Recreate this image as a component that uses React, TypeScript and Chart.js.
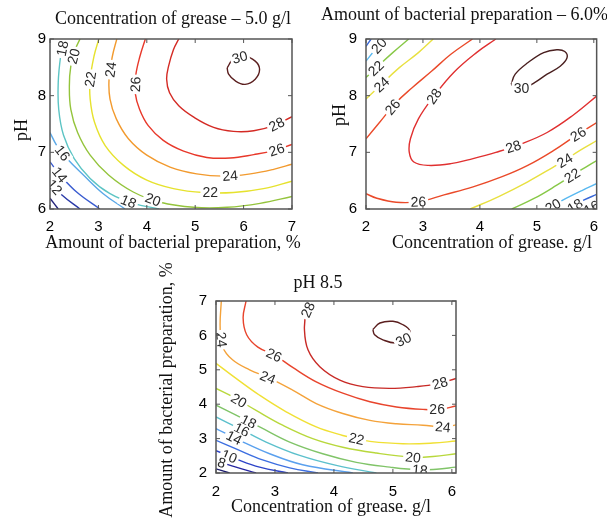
import React, { useEffect, useRef } from 'react';
import { Chart, registerables } from 'chart.js';
Chart.register(...registerables);

type P = [number, number];
type Lbl = [string, number, number];

// ---------- Panel A: grease 5.0 g/l (x: bacterial prep %, y: pH) ----------
const A_X_TICKS = [2, 3, 4, 5, 6, 7];
const A_Y_TICKS = [6, 7, 8, 9];
const A_10: P[] = [[2, 6.19], [2.17, 6.0]];
const A_12: P[] = [[2, 6.48], [2.24, 6.25], [2.62, 6.0]];
const A_14: P[] = [[2, 6.83], [2.21, 6.6], [2.55, 6.3], [3.03, 6.0]];
const A_16: P[] = [[2, 7.35], [2.14, 7.12], [2.35, 6.89], [2.69, 6.6], [3.1, 6.27], [3.55, 6.0]];
const A_18: P[] = [[2.29, 9], [2.22, 8.7], [2.17, 8.23], [2.18, 7.76], [2.28, 7.3], [2.5, 6.89], [2.83, 6.54], [3.24, 6.27], [3.72, 6.1], [4.26, 6.0]];
const A_20: P[] = [[2.62, 9], [2.52, 8.81], [2.43, 8.52], [2.4, 8.17], [2.43, 7.76], [2.57, 7.35], [2.83, 6.95], [3.21, 6.6], [3.72, 6.3], [4.28, 6.12], [4.97, 6.03], [5.66, 6.03], [6.34, 6.1], [7, 6.22]];
const A_22: P[] = [[3.01, 9], [2.91, 8.7], [2.83, 8.29], [2.83, 7.94], [2.92, 7.53], [3.14, 7.12], [3.52, 6.77], [4.0, 6.51], [4.55, 6.36], [5.17, 6.29], [5.79, 6.29], [6.41, 6.36], [7, 6.49]];
const A_24: P[] = [[3.38, 9], [3.29, 8.7], [3.22, 8.29], [3.24, 7.94], [3.37, 7.59], [3.62, 7.24], [4.0, 6.95], [4.48, 6.74], [5.03, 6.62], [5.59, 6.58], [6.14, 6.62], [6.62, 6.7], [7, 6.79]];
const A_26: P[] = [[3.97, 9], [3.86, 8.7], [3.77, 8.35], [3.76, 8.05], [3.85, 7.76], [4.03, 7.47], [4.34, 7.21], [4.76, 7.02], [5.24, 6.91], [5.72, 6.9], [6.21, 6.96], [6.62, 7.03], [7, 7.14]];
const A_28: P[] = [[4.66, 9], [4.55, 8.81], [4.45, 8.52], [4.41, 8.29], [4.47, 8.05], [4.66, 7.82], [4.97, 7.62], [5.38, 7.44], [5.79, 7.37], [6.21, 7.38], [6.62, 7.47], [7, 7.63]];
const A_30: P[] = [[5.66, 8.49], [5.79, 8.65], [6.0, 8.7], [6.24, 8.61], [6.33, 8.46], [6.24, 8.29], [6.03, 8.2], [5.83, 8.26], [5.69, 8.38], [5.66, 8.49]];
const A_LABELS: Lbl[] = [
  ['30', 5.93, 8.64], ['28', 6.69, 7.48], ['26', 3.76, 8.2], ['26', 6.69, 7.03],
  ['24', 3.24, 8.46], ['24', 5.72, 6.58], ['22', 2.84, 8.29], ['22', 5.31, 6.3],
  ['20', 2.47, 8.7], ['20', 4.14, 6.2], ['18', 2.22, 8.84], ['18', 3.62, 6.13],
  ['16', 2.2, 6.95], ['14', 2.12, 6.55], ['12', 2.05, 6.35],
];

// ---------- Panel B: bacterial prep 6.0 % (x: grease g/l, y: pH) ----------
const B_X_TICKS = [2, 3, 4, 5, 6];
const B_Y_TICKS = [6, 7, 8, 9];
const B_16: P[] = [[5.92, 6.0], [6.06, 6.08]];
const B_18a: P[] = [[2, 8.87], [2.09, 9]];
const B_18b: P[] = [[5.58, 6.0], [5.83, 6.16], [6.06, 6.26]];
const B_20a: P[] = [[2, 8.61], [2.16, 8.81], [2.33, 9]];
const B_20b: P[] = [[5.18, 6.0], [5.52, 6.19], [5.8, 6.33], [6.06, 6.45]];
const B_22a: P[] = [[2, 8.32], [2.24, 8.55], [2.47, 8.76], [2.75, 9]];
const B_22b: P[] = [[4.56, 6.0], [4.96, 6.19], [5.35, 6.42], [5.63, 6.6], [5.86, 6.74], [6.06, 6.86]];
const B_24a: P[] = [[2, 7.94], [2.24, 8.17], [2.58, 8.49], [2.92, 8.76], [3.18, 9]];
const B_24b: P[] = [[3.83, 6.0], [4.33, 6.22], [4.84, 6.48], [5.29, 6.74], [5.49, 6.86], [5.75, 7.03], [6.06, 7.21]];
const B_26a: P[] = [[2, 7.24], [2.24, 7.53], [2.53, 7.88], [2.81, 8.14], [3.15, 8.43], [3.49, 8.73], [3.87, 9]];
const B_26b: P[] = [[2, 6.27], [2.19, 6.19], [2.53, 6.12], [2.92, 6.13], [3.37, 6.25], [3.88, 6.39], [4.39, 6.57], [4.84, 6.77], [5.29, 7.03], [5.69, 7.3], [6.06, 7.53]];
const B_28: P[] = [[4.28, 9], [3.94, 8.76], [3.54, 8.41], [3.2, 8.0], [2.92, 7.59], [2.78, 7.24], [2.76, 7.0], [2.84, 6.83], [3.09, 6.77], [3.49, 6.8], [3.88, 6.89], [4.28, 7.0], [4.73, 7.15], [5.18, 7.35], [5.63, 7.65], [6.06, 8.0]];
const B_30: P[] = [[4.55, 8.2], [4.62, 8.38], [4.84, 8.58], [5.12, 8.76], [5.35, 8.81], [5.49, 8.78], [5.53, 8.67], [5.41, 8.52], [5.18, 8.38], [4.96, 8.23], [4.79, 8.14], [4.62, 8.14], [4.55, 8.2]];
const B_LABELS: Lbl[] = [
  ['20', 2.24, 8.87], ['22', 2.16, 8.5], ['24', 2.3, 8.17], ['26', 2.44, 7.82],
  ['28', 3.18, 8.0], ['30', 4.73, 8.1], ['28', 4.59, 7.09], ['26', 2.92, 6.12],
  ['26', 5.72, 7.33], ['24', 5.49, 6.86], ['22', 5.6, 6.62], ['20', 5.28, 6.06],
  ['18', 5.66, 6.07], ['16', 5.96, 6.03],
];

// ---------- Panel C: pH 8.5 (x: grease g/l, y: bacterial prep %) ----------
const C_X_TICKS = [2, 3, 4, 5, 6];
const C_Y_TICKS = [2, 3, 4, 5, 6, 7];
const C_6: P[] = [[2, 2.12], [2.23, 2.0]];
const C_8: P[] = [[2, 2.36], [2.34, 2.17], [2.68, 2.0]];
const C_10: P[] = [[2, 2.65], [2.34, 2.41], [2.74, 2.17], [3.22, 2.0]];
const C_12: P[] = [[2, 2.95], [2.34, 2.7], [2.79, 2.38], [3.25, 2.15], [3.73, 2.0]];
const C_14: P[] = [[2, 3.29], [2.4, 2.95], [2.91, 2.56], [3.47, 2.24], [4.32, 2.0]];
const C_16: P[] = [[2, 3.63], [2.4, 3.29], [2.85, 2.9], [3.42, 2.51], [4.04, 2.22], [4.72, 2.0]];
const C_18: P[] = [[2, 3.97], [2.34, 3.68], [2.74, 3.34], [3.25, 2.9], [3.81, 2.56], [4.38, 2.31], [4.95, 2.17], [5.46, 2.09], [5.74, 2.11], [6.07, 2.17]];
const C_20: P[] = [[2, 4.46], [2.28, 4.22], [2.68, 3.82], [3.13, 3.39], [3.64, 3.0], [4.15, 2.75], [4.72, 2.58], [5.34, 2.46], [5.68, 2.48], [6.07, 2.56]];
const C_22: P[] = [[2, 5.19], [2.34, 4.75], [2.74, 4.26], [3.19, 3.78], [3.7, 3.34], [4.15, 3.09], [4.38, 3.0], [4.61, 2.92], [5.17, 2.85], [5.68, 2.87], [6.07, 2.93]];
const C_24: P[] = [[2.09, 7], [2.07, 6.26], [2.11, 5.68], [2.28, 5.29], [2.57, 5.0], [2.88, 4.78], [3.3, 4.41], [3.7, 4.02], [4.15, 3.73], [4.61, 3.53], [5.06, 3.43], [5.51, 3.39], [5.85, 3.34], [6.07, 3.4]];
const C_26: P[] = [[2.51, 7], [2.46, 6.51], [2.52, 6.02], [2.71, 5.66], [2.99, 5.43], [3.3, 5.07], [3.7, 4.65], [4.15, 4.32], [4.61, 4.07], [5.06, 3.92], [5.51, 3.85], [5.8, 3.85], [6.07, 3.95]];
const C_28: P[] = [[3.62, 7], [3.53, 6.65], [3.5, 6.17], [3.56, 5.58], [3.76, 5.09], [4.1, 4.7], [4.49, 4.51], [4.95, 4.46], [5.4, 4.51], [5.74, 4.59], [6.07, 4.75]];
const C_30: P[] = [[4.66, 6.17], [4.78, 6.36], [5.0, 6.41], [5.17, 6.31], [5.29, 6.12], [5.23, 5.92], [5.06, 5.78], [4.83, 5.87], [4.69, 6.02], [4.66, 6.17]];
const C_LABELS: Lbl[] = [
  ['30', 5.2, 5.8], ['28', 3.55, 6.75], ['28', 5.8, 4.6], ['26', 2.99, 5.45],
  ['26', 5.75, 3.85], ['24', 2.08, 5.87], ['24', 2.88, 4.78], ['24', 5.85, 3.34],
  ['22', 4.38, 2.97], ['20', 2.42, 4.2], ['20', 5.34, 2.46], ['18', 2.57, 3.55],
  ['18', 5.46, 2.09], ['16', 2.45, 3.3], ['14', 2.31, 3.04], ['10', 2.23, 2.5], ['8', 2.08, 2.22],
];

type Line = [string, P[], string];
interface Panel {
  lines: Line[];
  labels: Lbl[];
  xr: [number, number];
  yr: [number, number];
  xt: number[];
  yt: number[];
  area: { l: number; t: number; r: number; b: number };
  padX: number;
  padY: number;
  texts: { s: string; x: number; y: number; rot?: boolean; align?: CanvasTextAlign }[];
}

const W = 607;
const H = 519;

const PANELS: Panel[] = [
  {
    lines: [
      ['10', A_10, '#23237a'], ['12', A_12, '#2a3aa8'], ['14', A_14, '#3a5cd0'], ['16', A_16, '#5aa8e8'],
      ['18', A_18, '#5cc4c4'], ['20', A_20, '#94c43c'], ['22', A_22, '#e6e22e'], ['24', A_24, '#f29a2e'],
      ['26', A_26, '#e8382a'], ['28', A_28, '#d42a24'], ['30', A_30, '#5a1e1e'],
    ],
    labels: A_LABELS, xr: [2, 7], yr: [6, 9], xt: A_X_TICKS, yt: A_Y_TICKS,
    area: { l: 50, t: 39, r: 292, b: 209 }, padX: 9, padY: 4,
    texts: [
      { s: 'Concentration of grease \u2013 5.0 g/l', x: 173, y: 19 },
      { s: 'Amount of bacterial preparation, %', x: 173, y: 243 },
      { s: 'pH', x: 22, y: 130, rot: true },
    ],
  },
  {
    lines: [
      ['16', B_16, '#2830a8'], ['18', B_18a, '#3868d8'], ['18', B_18b, '#3868d8'],
      ['20', B_20a, '#58b8f0'], ['20', B_20b, '#58b8f0'], ['22', B_22a, '#88c848'], ['22', B_22b, '#88c848'],
      ['24', B_24a, '#e8e040'], ['24', B_24b, '#e8e040'], ['26', B_26a, '#ea4a2a'], ['26', B_26b, '#ea4a2a'],
      ['28', B_28, '#e03030'], ['30', B_30, '#4a2020'],
    ],
    labels: B_LABELS, xr: [2, 6.05], yr: [6, 9], xt: B_X_TICKS, yt: B_Y_TICKS,
    area: { l: 366, t: 39, r: 605, b: 209 }, padX: 9, padY: 9,
    texts: [
      { s: 'Amount of bacterial preparation \u2013 6.0%', x: 321, y: 15, align: 'left' },
      { s: 'Concentration of grease. g/l', x: 492, y: 243 },
      { s: 'pH', x: 340, y: 115, rot: true },
    ],
  },
  {
    lines: [
      ['6', C_6, '#1c1c6e'], ['8', C_8, '#2626a0'], ['10', C_10, '#2e44c8'], ['12', C_12, '#3c6ee0'],
      ['14', C_14, '#5aa0ee'], ['16', C_16, '#5cc0cc'], ['18', C_18, '#80c468'], ['20', C_20, '#b8d83c'],
      ['22', C_22, '#f0e034'], ['24', C_24, '#f4a23a'], ['26', C_26, '#e8442c'], ['28', C_28, '#c82a26'],
      ['30', C_30, '#5a1e1e'],
    ],
    labels: C_LABELS, xr: [2, 6.07], yr: [2, 7], xt: C_X_TICKS, yt: C_Y_TICKS,
    area: { l: 216, t: 301, r: 456, b: 473 }, padX: 10, padY: 9,
    texts: [
      { s: 'pH 8.5', x: 318, y: 283 },
      { s: 'Concentration of grease. g/l', x: 331, y: 507 },
      { s: 'Amount of bacterial preparation, %', x: 167, y: 390, rot: true },
    ],
  },
];

const decor = {
  id: 'contourDecor',
  afterDatasetsDraw(chart: any, _a: any, opts: any) {
    const p: Panel = opts.panel;
    const ctx: CanvasRenderingContext2D = chart.ctx;
    const xs = chart.scales.x;
    const ys = chart.scales.y;
    const ca = chart.chartArea;
    ctx.save();
    ctx.beginPath();
    ctx.rect(ca.left, ca.top, ca.right - ca.left, ca.bottom - ca.top);
    ctx.clip();
    ctx.font = '14px "Liberation Sans", Arial, sans-serif';
    ctx.textAlign = 'center';
    ctx.textBaseline = 'middle';
    for (const [txt, lx, ly] of p.labels) {
      const px = xs.getPixelForValue(lx);
      const py = ys.getPixelForValue(ly);
      let best: { x: number; y: number; a: number } | null = null;
      let bd = Infinity;
      chart.data.datasets.forEach((d: any) => {
        if (d.label !== txt) return;
        const pts = d.data.map((q: any) => [xs.getPixelForValue(q.x), ys.getPixelForValue(q.y)]);
        for (let i = 0; i < pts.length - 1; i++) {
          const [ax, ay] = pts[i];
          const [bx, by] = pts[i + 1];
          const dx = bx - ax, dy = by - ay;
          const L = dx * dx + dy * dy || 1;
          let t = ((px - ax) * dx + (py - ay) * dy) / L;
          t = Math.max(0, Math.min(1, t));
          const sx = ax + t * dx, sy = ay + t * dy;
          const dd = (sx - px) ** 2 + (sy - py) ** 2;
          if (dd < bd) {
            bd = dd;
            best = { x: sx, y: sy, a: Math.atan2(dy, dx) };
          }
        }
      });
      if (!best) continue;
      const b = best as { x: number; y: number; a: number };
      let a = b.a;
      if (a > Math.PI / 2) a -= Math.PI;
      if (a < -Math.PI / 2) a += Math.PI;
      const w = ctx.measureText(txt).width;
      ctx.save();
      ctx.translate(b.x, b.y);
      ctx.rotate(a);
      ctx.fillStyle = '#ffffff';
      ctx.fillRect(-w / 2 - 2, -6, w + 4, 12);
      ctx.fillStyle = '#2a2a2a';
      ctx.fillText(txt, 0, 1);
      ctx.restore();
    }
    ctx.restore();

    // box and inward ticks
    ctx.save();
    ctx.strokeStyle = '#555555';
    ctx.lineWidth = 1.5;
    ctx.strokeRect(ca.left, ca.top, ca.right - ca.left, ca.bottom - ca.top);
    ctx.lineWidth = 1;
    ctx.beginPath();
    for (const t of xs.ticks) {
      const x = xs.getPixelForValue(t.value);
      ctx.moveTo(x, ca.bottom); ctx.lineTo(x, ca.bottom - 4);
      ctx.moveTo(x, ca.top); ctx.lineTo(x, ca.top + 4);
    }
    for (const t of ys.ticks) {
      const y = ys.getPixelForValue(t.value);
      ctx.moveTo(ca.left, y); ctx.lineTo(ca.left + 4, y);
      ctx.moveTo(ca.right, y); ctx.lineTo(ca.right - 4, y);
    }
    ctx.stroke();
    ctx.restore();
  },
  afterDraw(chart: any, _a: any, opts: any) {
    const p: Panel = opts.panel;
    const ctx: CanvasRenderingContext2D = chart.ctx;
    ctx.save();
    ctx.fillStyle = '#111111';
    ctx.font = '18px "Liberation Serif", "Times New Roman", serif';
    ctx.textBaseline = 'middle';
    for (const t of p.texts) {
      ctx.save();
      ctx.translate(t.x, t.y);
      if (t.rot) ctx.rotate(-Math.PI / 2);
      ctx.textAlign = t.align || 'center';
      ctx.fillText(t.s, 0, 0);
      ctx.restore();
    }
    ctx.restore();
  },
};

function PanelChart({ panel }: { panel: Panel }) {
  const ref = useRef<HTMLCanvasElement>(null);
  useEffect(() => {
    if (!ref.current) return;
    const a = panel.area;
    const chart = new Chart(ref.current, {
      type: 'scatter',
      data: {
        datasets: panel.lines.map(([label, pts, color]) => ({
          label,
          data: pts.map(([x, y]) => ({ x, y })),
          borderColor: color,
          backgroundColor: color,
          borderWidth: 1.4,
          pointRadius: 0,
          showLine: true,
          tension: 0.4,
          fill: false,
        })),
      },
      options: {
        responsive: false,
        animation: false,
        events: [],
        layout: { padding: { left: 0, top: a.t, right: W - a.r, bottom: 0 } },
        plugins: {
          legend: { display: false },
          tooltip: { enabled: false },
          title: { display: false },
          contourDecor: { panel },
        } as any,
        scales: {
          x: {
            type: 'linear',
            min: panel.xr[0],
            max: panel.xr[1],
            afterFit: (s: any) => { s.height = H - a.b; },
            afterBuildTicks: (s: any) => { s.ticks = panel.xt.map((v) => ({ value: v })); },
            ticks: {
              padding: panel.padX,
              color: '#000',
              font: { family: '"Liberation Sans", Arial, sans-serif', size: 15 },
              maxRotation: 0,
              autoSkip: false,
            },
            grid: { display: false, drawTicks: false },
            border: { display: false },
          },
          y: {
            type: 'linear',
            min: panel.yr[0],
            max: panel.yr[1],
            afterFit: (s: any) => { s.width = a.l; },
            afterBuildTicks: (s: any) => { s.ticks = panel.yt.map((v) => ({ value: v })); },
            ticks: {
              padding: panel.padY,
              color: '#000',
              font: { family: '"Liberation Sans", Arial, sans-serif', size: 15 },
              autoSkip: false,
            },
            grid: { display: false, drawTicks: false },
            border: { display: false },
          },
        },
      },
      plugins: [decor as any],
    });
    return () => chart.destroy();
  }, [panel]);
  return (
    <canvas
      ref={ref}
      width={W}
      height={H}
      style={{ position: 'absolute', left: 0, top: 0, width: W, height: H }}
    />
  );
}

export default function App() {
  return (
    <div style={{ position: 'absolute', left: 0, top: 0, width: W, height: H, background: '#ffffff', overflow: 'hidden' }}>
      {PANELS.map((p, i) => (
        <PanelChart key={i} panel={p} />
      ))}
    </div>
  );
}
